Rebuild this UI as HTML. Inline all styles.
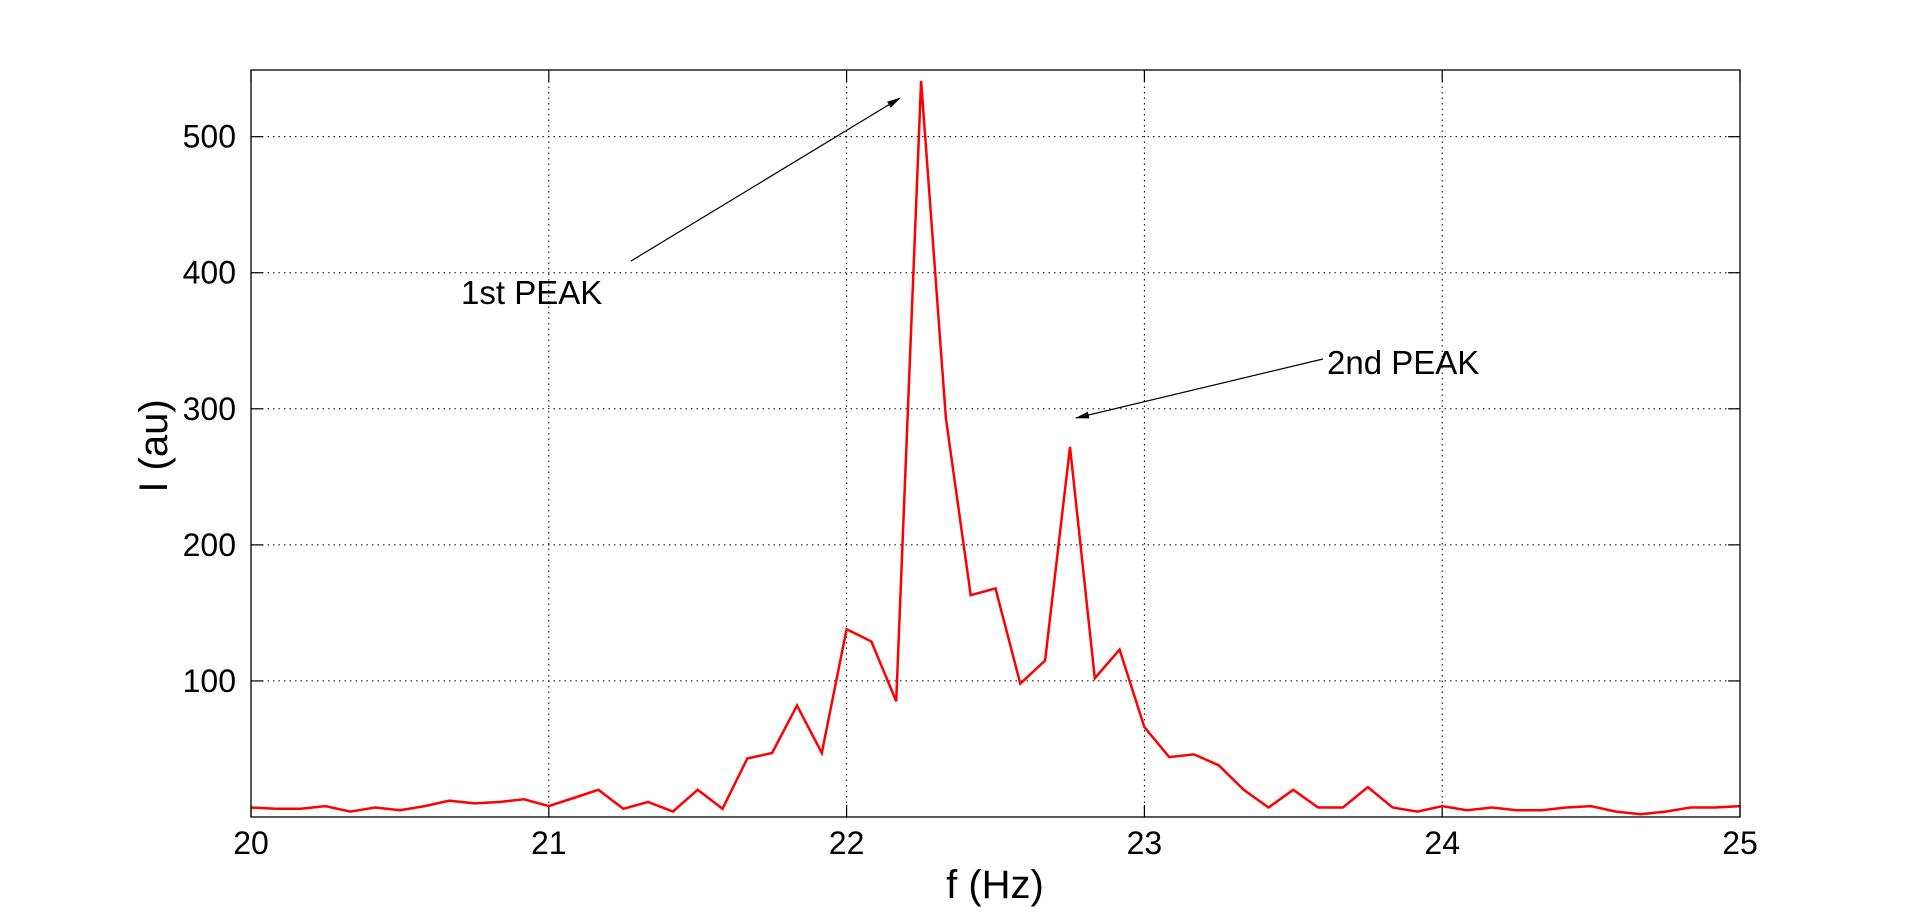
<!DOCTYPE html>
<html><head><meta charset="utf-8"><style>
html,body{margin:0;padding:0;background:#fff;}
svg{display:block;font-family:"Liberation Sans",sans-serif;}
</style></head><body>
<svg id="chart" width="1921" height="917">
<defs><marker id="ah" markerWidth="14" markerHeight="8" refX="13" refY="4" orient="auto" markerUnits="userSpaceOnUse"><path d="M0,0.5 L14,4 L0,7.5 Z" fill="#000"/></marker></defs>
<g id="grid"></g>
<g id="ticks"></g>
<path id="series" fill="none" stroke="#ff0000" stroke-width="2.5" stroke-linejoin="miter"/>
<rect x="251" y="70" width="1489" height="747" fill="none" stroke="#000" stroke-width="1.3"/>
<text x="995" y="898" font-size="40" text-anchor="middle">f (Hz)</text>
<text transform="translate(167,446) rotate(-90)" font-size="40" text-anchor="middle">I (au)</text>
<text x="461" y="304" font-size="33">1st PEAK</text>
<line x1="631" y1="261" x2="900" y2="98" stroke="#000" stroke-width="1.2" marker-end="url(#ah)"/>
<text x="1327" y="374" font-size="33">2nd PEAK</text>
<line x1="1323" y1="359" x2="1076" y2="418" stroke="#000" stroke-width="1.2" marker-end="url(#ah)"/>
</svg>
<script>
const freqStart = 20, freqStep = 1/12;
const intensity = [7,6,6,8,4,7,5,8,12,10,11,13,8,14,20,6,11,4,20,6,43,47,82,47,138,129,85,541,293,163,168,98,115,272,102,123,66,44,46,38,20,7,20,7,7,22,7,4,8,5,7,5,5,7,8,4,2,4,7,7,8];
const xTicks = [20,21,22,23,24,25];
const yTicks = [100,200,300,400,500];
const X0=251,X1=1740,Y0=817,Y1=70,xmin=20,xmax=25,ymin=0,ymax=549;
const sx=v=>X0+(v-xmin)/(xmax-xmin)*(X1-X0);
const sy=v=>Y0-(v-ymin)/(ymax-ymin)*(Y0-Y1);
const NS="http://www.w3.org/2000/svg";
const grid=document.getElementById('grid'), ticks=document.getElementById('ticks');
function mk(tag,attrs,parent){const e=document.createElementNS(NS,tag);for(const k in attrs)e.setAttribute(k,attrs[k]);parent.appendChild(e);return e;}
xTicks.forEach(t=>{
  const x=sx(t);
  if(t>xmin&&t<xmax){const g=mk('line',{x1:x,x2:x,y1:Y1,y2:Y0,stroke:'#000','stroke-width':1,'stroke-dasharray':'1.5,4'},grid);
  
  }
  mk('line',{x1:x,x2:x,y1:Y0,y2:Y0-12,stroke:'#000','stroke-width':1.2},ticks);
  mk('line',{x1:x,x2:x,y1:Y1,y2:Y1+12,stroke:'#000','stroke-width':1.2},ticks);
  const l=mk('text',{x:x,y:Y0+37,'font-size':32,'text-anchor':'middle'},ticks);l.textContent=t;
  
  
});
yTicks.forEach(t=>{
  const y=sy(t);
  const g=mk('line',{x1:X0,x2:X1,y1:y,y2:y,stroke:'#000','stroke-width':1,'stroke-dasharray':'1.5,4'},grid);
  
  
  mk('line',{x1:X0,x2:X0+12,y1:y,y2:y,stroke:'#000','stroke-width':1.2},ticks);
  mk('line',{x1:X1,x2:X1-12,y1:y,y2:y,stroke:'#000','stroke-width':1.2},ticks);
  const l=mk('text',{x:X0-15,y:y+11,'font-size':32,'text-anchor':'end'},ticks);l.textContent=t;
  
  
});
document.getElementById('series').setAttribute('d',intensity.map((v,i)=>(i?'L':'M')+sx(freqStart+i*freqStep).toFixed(1)+','+sy(v).toFixed(1)).join(' '));
</script>
</body></html>
